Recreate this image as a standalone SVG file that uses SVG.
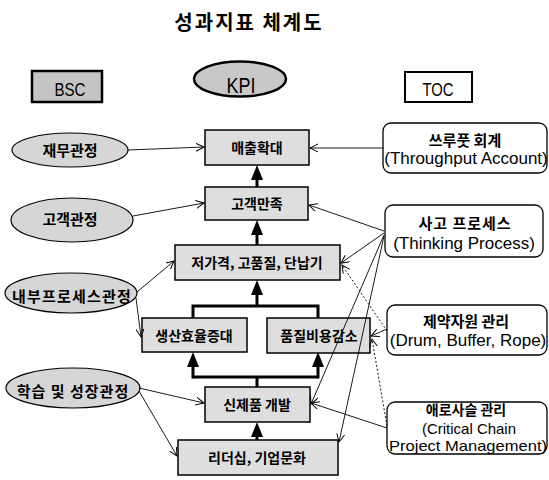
<svg xmlns="http://www.w3.org/2000/svg" width="549" height="480" viewBox="0 0 549 480">
  <defs>
    <style>
      .kr { font-family: "Noto Sans CJK KR", "Noto Sans", sans-serif; fill: #000; font-weight: 600; }
      .en { font-family: "Liberation Sans", Arial, sans-serif; fill: #000; }
      .box { fill: #dedede; stroke: #000; stroke-width: 1.5; }
      .ell { fill: #d6d6d6; stroke: #000; stroke-width: 1.2; }
      .rbox { fill: #fff; stroke: #000; stroke-width: 1.3; }
      .thin { fill: none; stroke: #000; stroke-width: 0.9; marker-end: url(#open); }
      .dot { stroke-dasharray: 2 2; }
      .thick { fill: none; stroke: #000; stroke-width: 3; }
      .up { marker-end: url(#solid); }
      .ctr { text-anchor: middle; dominant-baseline: central; }
    </style>
    <marker id="open" markerUnits="userSpaceOnUse" markerWidth="10" markerHeight="10" refX="8" refY="4" orient="auto">
      <path d="M0,0 L8,4 L0,8" fill="none" stroke="#000" stroke-width="1"/>
    </marker>
    <marker id="solid" markerUnits="userSpaceOnUse" markerWidth="16" markerHeight="14" refX="3" refY="6" orient="auto">
      <path d="M0,0 L15,6 L0,12 z" fill="#000"/>
    </marker>
  </defs>
  <rect width="549" height="480" fill="#fff"/>

  <text class="kr" x="249" y="30" font-size="20" font-weight="bold" text-anchor="middle" letter-spacing="2">성과지표 체계도</text>

  <g id="bsc">
    <rect x="32" y="71" width="70" height="31" fill="#c4c4c4" stroke="#000" stroke-width="2.5"/>
    <text class="en" x="70" y="96" font-size="18" text-anchor="middle" textLength="31" lengthAdjust="spacingAndGlyphs">BSC</text>
  </g>
  <g id="kpi">
    <ellipse cx="240" cy="79" rx="46" ry="17.5" fill="#c8c8c8" stroke="#000" stroke-width="2.5"/>
    <text class="en" x="241" y="93" font-size="22" text-anchor="middle" textLength="29" lengthAdjust="spacingAndGlyphs">KPI</text>
  </g>
  <g id="toc">
    <rect x="405" y="72" width="67" height="30" fill="#fff" stroke="#000" stroke-width="2"/>
    <text class="en" x="438" y="96" font-size="18" text-anchor="middle" textLength="31" lengthAdjust="spacingAndGlyphs">TOC</text>
  </g>

  <g id="n-sales">
    <rect class="box" x="205" y="130" width="104" height="35"/>
    <text class="kr ctr" x="257" y="147" font-size="14">매출확대</text>
  </g>
  <g id="n-cust">
    <rect class="box" x="205" y="187" width="103" height="33"/>
    <text class="kr ctr" x="257" y="203" font-size="14">고객만족</text>
  </g>
  <g id="n-price">
    <rect class="box" x="175" y="245" width="165" height="35"/>
    <text class="kr ctr" x="257" y="262" font-size="14">저가격, 고품질, 단납기</text>
  </g>
  <g id="n-eff">
    <rect class="box" x="142" y="318" width="105" height="34"/>
    <text class="kr ctr" x="194" y="335" font-size="14">생산효율증대</text>
  </g>
  <g id="n-qcost">
    <rect class="box" x="267" y="318" width="103" height="35"/>
    <text class="kr ctr" x="319" y="335" font-size="14">품질비용감소</text>
  </g>
  <g id="n-newprod">
    <rect class="box" x="205" y="387" width="105" height="35"/>
    <text class="kr ctr" x="257" y="404" font-size="14">신제품 개발</text>
  </g>
  <g id="n-lead">
    <rect class="box" x="178" y="440" width="160" height="35"/>
    <text class="kr ctr" x="257" y="457" font-size="14">리더십, 기업문화</text>
  </g>

  <g id="e-fin">
    <ellipse class="ell" cx="70" cy="150" rx="58" ry="17"/>
    <text class="kr ctr" x="70" y="149" font-size="15">재무관정</text>
  </g>
  <g id="e-cust">
    <ellipse class="ell" cx="72" cy="220" rx="61" ry="22"/>
    <text class="kr ctr" x="70" y="218" font-size="15">고객관정</text>
  </g>
  <g id="e-int">
    <ellipse class="ell" cx="71" cy="293" rx="66" ry="20"/>
    <text class="kr ctr" x="72" y="295" font-size="15" letter-spacing="1.2">내부프로세스관정</text>
  </g>
  <g id="e-learn">
    <ellipse class="ell" cx="73" cy="388" rx="67" ry="20"/>
    <text class="kr ctr" x="73" y="390" font-size="15" letter-spacing="1">학습 및 성장관정</text>
  </g>

  <g id="r-ta">
    <rect class="rbox" x="383" y="123" width="164" height="50" rx="8"/>
    <text class="kr ctr" x="465" y="139" font-size="15">쓰루풋 회계</text>
    <text class="en" x="466" y="164" font-size="17" text-anchor="middle">(Throughput Account)</text>
  </g>
  <g id="r-tp">
    <rect class="rbox" x="385" y="205" width="158" height="52" rx="8"/>
    <text class="kr ctr" x="465" y="222" font-size="15" letter-spacing="1">사고 프로세스</text>
    <text class="en" x="464" y="249" font-size="17" text-anchor="middle">(Thinking Process)</text>
  </g>
  <g id="r-dbr">
    <rect class="rbox" x="387" y="305" width="160" height="50" rx="8"/>
    <text class="kr ctr" x="466" y="320" font-size="15">제약자원 관리</text>
    <text class="en" x="468" y="346" font-size="17" text-anchor="middle">(Drum, Buffer, Rope)</text>
  </g>
  <g id="r-ccpm">
    <rect class="rbox" x="387" y="402" width="160" height="52" rx="8"/>
    <text class="kr ctr" x="466" y="409" font-size="14">애로사슬 관리</text>
    <text class="en" x="469" y="434" font-size="14.5" text-anchor="middle" textLength="94" lengthAdjust="spacingAndGlyphs">(Critical Chain</text>
    <text class="en" x="468" y="451" font-size="14.5" text-anchor="middle" textLength="158" lengthAdjust="spacingAndGlyphs">Project Management)</text>
  </g>

  <g id="connectors">
    <line class="thick up" x1="257" y1="187" x2="257" y2="177"/>
    <line class="thick up" x1="257" y1="245" x2="257" y2="232"/>
    <path class="thick" d="M193,318 V306 H318 V318"/>
    <line class="thick up" x1="257" y1="306" x2="257" y2="292"/>
    <path class="thick" d="M257,387 V377"/>
    <path class="thick" d="M193,377 H318"/>
    <line class="thick up" x1="193" y1="378.5" x2="193" y2="364"/>
    <line class="thick up" x1="318" y1="378.5" x2="318" y2="364"/>
    <line class="thick up" x1="257" y1="440" x2="257" y2="434"/>

    <line class="thin" x1="128" y1="150" x2="204" y2="147"/>
    <line class="thin" x1="133" y1="216" x2="204" y2="203"/>
    <line class="thin" x1="137" y1="292" x2="174" y2="261"/>
    <line class="thin" x1="136" y1="298" x2="141" y2="337"/>
    <line class="thin" x1="139" y1="388" x2="204" y2="403"/>
    <line class="thin" x1="139" y1="391" x2="177" y2="456"/>
    <line class="thin" x1="383" y1="148" x2="310" y2="148"/>
    <line class="thin" x1="384" y1="231" x2="309" y2="205"/>
    <line class="thin" x1="384" y1="233" x2="341" y2="263"/>
    <line class="thin" x1="384" y1="235" x2="311" y2="404"/>
    <line class="thin" x1="384" y1="236" x2="339" y2="442"/>
    <line class="thin" x1="387" y1="329" x2="371" y2="336"/>
    <line class="thin dot" x1="387" y1="331" x2="342" y2="265"/>
    <line class="thin" x1="387" y1="428" x2="311" y2="403"/>
    <line class="thin dot" x1="387" y1="426" x2="372" y2="339"/>
  </g>
</svg>
